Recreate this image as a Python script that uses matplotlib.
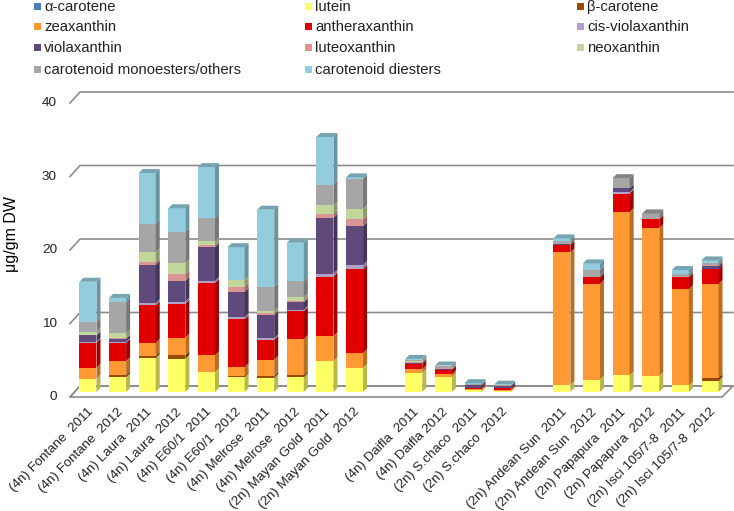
import numpy as np
import matplotlib.pyplot as plt
from matplotlib.patches import Polygon, Rectangle
from matplotlib.colors import to_rgb

plt.rcParams['font.family'] = ['Liberation Sans', 'DejaVu Sans']

# cultivars / years
names = ['(4n) Fontane  2011', '(4n) Fontane  2012', '(4n) Laura  2011', '(4n) Laura  2012',
         '(4n) E60/1  2011', '(4n) E60/1  2012', '(4n) Melrose  2011', '(4n) Melrose  2012',
         '(2n) Mayan Gold  2011', '(2n) Mayan Gold  2012',
         '(4n) Daifla  2011', '(4n) Daifla 2012', '(2n) S.chaco  2011', '(2n) S.chaco  2012',
         '(2n) Andean Sun  2011', '(2n) Andean Sun  2012', '(2n) Papapura  2011', '(2n) Papapura  2012',
         '(2n) Isci 105/7-8  2011', '(2n) Isci 105/7-8  2012']
slots = [0, 1, 2, 3, 4, 5, 6, 7, 8, 9, 11, 12, 13, 14, 16, 17, 18, 19, 20, 21]

# carotenoid contents (ug/gm DW)
alpha_car = [0]*20
lutein =    [1.8, 2.0, 4.6, 4.5, 2.7, 2.0, 1.9, 2.0, 4.2, 3.3, 2.6, 2.1, 0.3, 0.2, 1.0, 1.7, 2.3, 2.2, 0.9, 1.5]
beta_car =  [0, 0.3, 0.3, 0.5, 0, 0.2, 0.3, 0.3, 0, 0, 0, 0, 0, 0, 0, 0, 0, 0, 0, 0.4]
zeaxan =    [1.5, 1.9, 1.8, 2.4, 2.3, 1.2, 2.2, 4.9, 3.4, 2.0, 0.5, 0.3, 0.1, 0.1, 18.0, 13.0, 22.2, 20.1, 13.1, 12.8]
antherax =  [3.4, 2.5, 5.1, 4.6, 9.8, 6.5, 2.7, 3.8, 8.1, 11.4, 0.7, 0.6, 0.2, 0.2, 1.0, 0.9, 2.5, 1.2, 1.6, 2.0]
cis_viola = [0.1, 0.1, 0.3, 0.3, 0.3, 0.3, 0.2, 0.2, 0.4, 0.6, 0, 0, 0, 0, 0, 0, 0.2, 0, 0, 0]
violax =    [0.9, 0.4, 5.2, 2.8, 4.6, 3.4, 3.2, 1.0, 7.6, 5.3, 0.2, 0.1, 0.3, 0.3, 0.1, 0.1, 0.5, 0.1, 0.1, 0.4]
luteox =    [0.1, 0.2, 0.4, 0.9, 0.3, 0.7, 0.2, 0.2, 0.5, 0.9, 0.1, 0.1, 0, 0, 0, 0, 0, 0, 0, 0.2]
neoxan =    [0.4, 0.6, 1.3, 1.5, 0.5, 0.9, 0.3, 0.5, 1.2, 1.4, 0.1, 0.1, 0, 0, 0, 0, 0, 0, 0, 0]
monoest =   [1.3, 4.2, 3.9, 4.3, 3.2, 0, 3.3, 2.2, 2.8, 4.1, 0.2, 0.2, 0.2, 0.1, 0.4, 0.9, 1.4, 0.7, 0.3, 0.3]
diest =     [5.5, 0.6, 6.9, 3.2, 6.9, 4.5, 10.5, 5.2, 6.5, 0.2, 0.1, 0.1, 0.1, 0.1, 0.4, 0.9, 0, 0, 0.6, 0.3]

series = [alpha_car, lutein, beta_car, zeaxan, antherax, cis_viola, violax, luteox, neoxan, monoest, diest]
labels = ['α-carotene', 'lutein', 'β-carotene', 'zeaxanthin', 'antheraxanthin', 'cis-violaxanthin',
          'violaxanthin', 'luteoxanthin', 'neoxanthin', 'carotenoid monoesters/others', 'carotenoid diesters']
colors = ['#4a7ebb', '#ffff66', '#994c00', '#ff9933', '#e00000', '#b3a2c7',
          '#604a7b', '#d99694', '#c3d69b', '#a6a6a6', '#93cddd']

W, H = 734, 511
fig = plt.figure(figsize=(W/100, H/100), dpi=100)

# axes placed in pixels: x 40..734, y 85..420 from top
ax = fig.add_axes([40/W, (H-420)/H, 694/W, 335/H])
xmin, xmax = -1.62, 21.81
ymin, ymax = -3.81, 41.77
ax.set_xlim(xmin, xmax)
ax.set_ylim(ymin, ymax)
ax.axis('off')
px = (xmax - xmin) / 694   # one pixel in x data units
py = (ymax - ymin) / 335   # one pixel in y data units


def shade(c, f):
    r, g, b = to_rgb(c)
    return (r*f, g*f, b*f)


# floor
x_fl, x_bl = xmin + 30*px, xmin + 40*px
x_fr, x_br = xmin + 682*px, xmin + 693*px
y_f, y_b = -5*py, 6*py
ax.add_patch(Polygon([(x_fl, y_f), (x_fr, y_f), (x_br, y_b), (x_bl, y_b)],
                     closed=True, fc='white', ec='#8c8c8c', lw=1.2, zorder=1))

# gridlines on the back wall with the left diagonal
for v in range(0, 41, 10):
    ax.plot([x_fl, x_bl, x_br], [v + y_f, v + y_b, v + y_b], color='#8c8c8c', lw=1.2, zorder=1)
    ax.text(xmin + 17*px, v + y_f, str(v), ha='right', va='center', fontsize=9.7, color='#222222')

# 3D stacked bars
bw = 17*px
dx, dy = 4*px, 4*py
for i, x in enumerate(slots):
    bottom = 0.0
    top_col = None
    for s, col in zip(series, colors):
        h = s[i]
        if h <= 0:
            continue
        ax.add_patch(Rectangle((x - bw/2, bottom), bw, h, fc=col, ec='none', zorder=3))
        ax.add_patch(Polygon([(x + bw/2, bottom), (x + bw/2 + dx, bottom + dy),
                              (x + bw/2 + dx, bottom + h + dy), (x + bw/2, bottom + h)],
                             closed=True, fc=shade(col, 0.72), ec='none', zorder=3))
        bottom += h
        top_col = col
    ax.add_patch(Polygon([(x - bw/2, bottom), (x - bw/2 + dx, bottom + dy),
                          (x + bw/2 + dx, bottom + dy), (x + bw/2, bottom)],
                         closed=True, fc=shade(top_col, 0.8), ec='none', zorder=3))

# category labels
for x, name in zip(slots, names):
    ax.text(x - 1*px, -14*py, name, rotation=45, rotation_mode='anchor',
            ha='right', va='top', fontsize=9.6, color='#222222')

fig.text(12/W, 1 - 234/H, 'μg/gm DW', rotation=90, ha='center', va='center', fontsize=11.5)

# legend, drawn by hand in three columns
col_x = [34, 305, 577]
row_y = [7, 27, 48, 70]
for k, (lab, col) in enumerate(zip(labels, colors)):
    r, c = divmod(k, 3)
    fig.patches.append(Rectangle((col_x[c]/W, 1 - (row_y[r] + 3.5)/H), 7/W, 7/H,
                                 transform=fig.transFigure, fc=col, ec='none'))
    fig.text((col_x[c] + 10)/W, 1 - row_y[r]/H, lab, ha='left', va='center',
             fontsize=10.7, color='#222222')

fig.savefig('out.png', dpi=100)
